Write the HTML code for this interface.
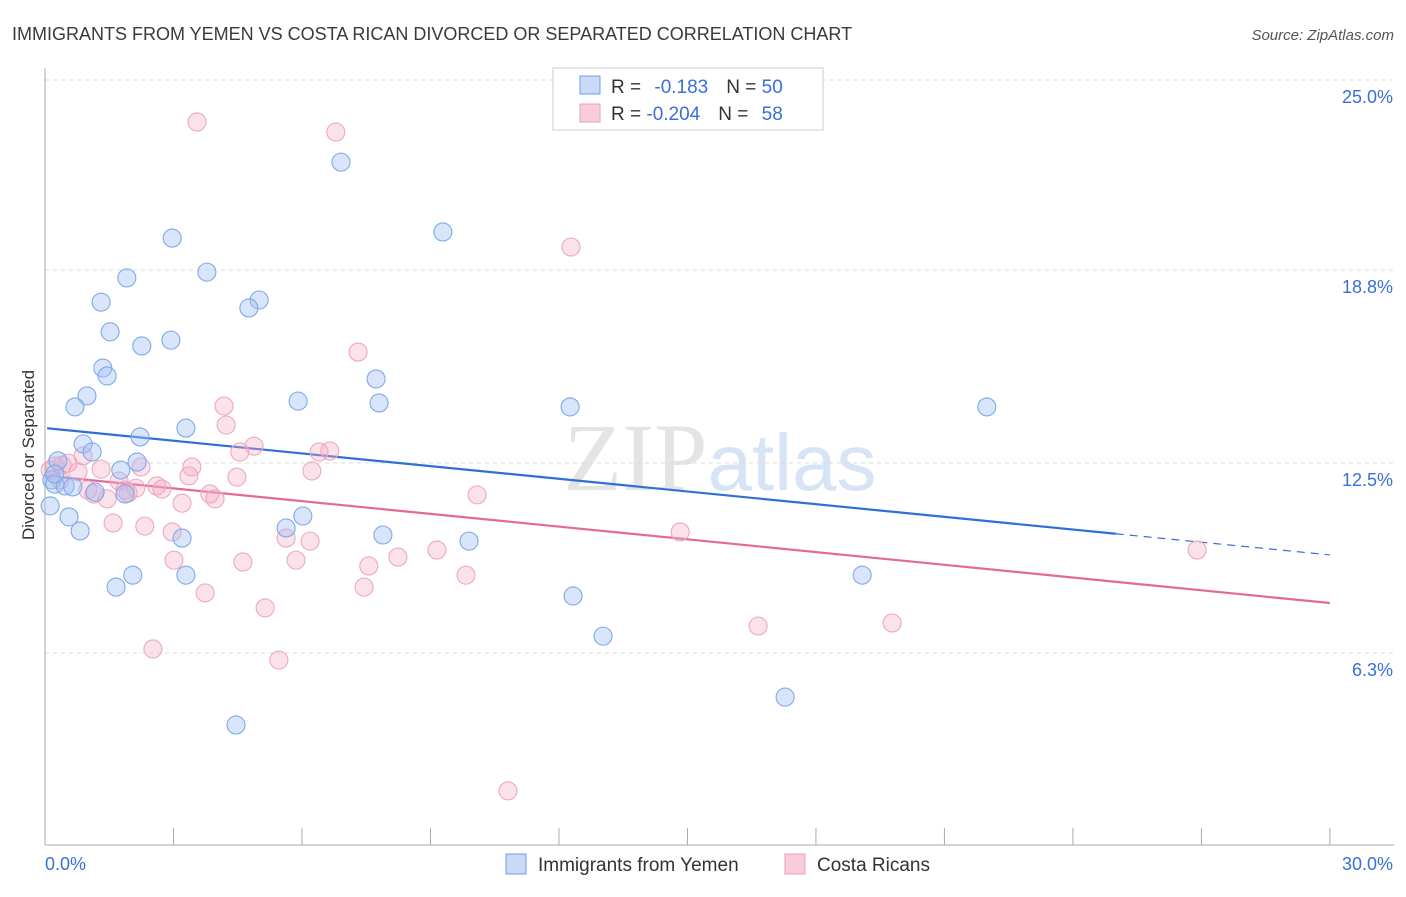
<!DOCTYPE html>
<html><head><meta charset="utf-8"><style>
body{margin:0;background:#fff;font-family:"Liberation Sans",sans-serif;}
</style></head><body>
<svg id="chart" width="1406" height="892" xmlns="http://www.w3.org/2000/svg" style="font-family:'Liberation Sans',sans-serif">
<text x="12" y="40" font-size="18" fill="#3a3a3a">IMMIGRANTS FROM YEMEN VS COSTA RICAN DIVORCED OR SEPARATED CORRELATION CHART</text>
<text x="1394" y="40" font-size="15" fill="#555" text-anchor="end" font-style="italic">Source: ZipAtlas.com</text>
<text x="720" y="490" font-size="96" text-anchor="middle" fill="#e4e4e4" font-family="'Liberation Serif',serif">ZIP<tspan fill="#d6e4f5" font-family="'Liberation Sans',sans-serif" font-size="80">atlas</tspan></text>
<g id="grid"></g><g id="axes"></g><g id="lines"></g><g id="pts"></g>
<text transform="translate(34,455) rotate(-90)" font-size="17" fill="#333" text-anchor="middle">Divorced or Separated</text>
<g>
<rect x="553" y="68" width="270" height="62" fill="#fff" stroke="#ccc"/>
<rect x="580" y="76" width="20" height="18" fill="rgba(164,194,244,0.6)" stroke="#6f9fe0"/>
<rect x="580" y="104" width="20" height="18" fill="rgba(244,170,195,0.6)" stroke="#e8a0b8"/>
<text x="611" y="93" font-size="19" fill="#333">R = <tspan fill="#3a6fd8" dx="8">-0.183</tspan><tspan fill="#333" dx="18">N = </tspan><tspan fill="#3a6fd8">50</tspan></text>
<text x="611" y="120" font-size="19" fill="#333">R = <tspan fill="#3a6fd8">-0.204</tspan><tspan fill="#333" dx="18">N = </tspan><tspan fill="#3a6fd8" dx="8">58</tspan></text>
</g>
<g>
<rect x="506" y="854" width="20" height="20" fill="rgba(164,194,244,0.6)" stroke="#6f9fe0"/>
<text x="538" y="871" font-size="19" fill="#333">Immigrants from Yemen</text>
<rect x="785" y="854" width="20" height="20" fill="rgba(244,170,195,0.6)" stroke="#e8a0b8"/>
<text x="817" y="871" font-size="19" fill="#333">Costa Ricans</text>
</g>
</svg>
<script>
const blueX=[6.91,9.29,2.97,3.78,1.91,1.31,5.00,4.76,1.52,2.94,2.26,1.35,1.45,7.73,0.98,0.70,5.91,7.80,12.26,21.99,2.22,3.29,0.89,1.10,0.30,2.15,1.77,0.16,0.23,0.47,0.65,1.17,1.87,0.12,0.56,6.02,5.63,0.82,7.89,3.20,9.90,2.05,3.29,19.08,1.66,12.33,13.03,17.28,4.46,0.23];
const blueY=[22.32,20.04,19.84,18.73,18.54,17.75,17.82,17.56,16.78,16.51,16.32,15.60,15.34,15.24,14.69,14.33,14.52,14.46,14.33,14.33,13.35,13.64,13.12,12.86,12.57,12.53,12.27,11.95,11.81,11.75,11.72,11.55,11.49,11.10,10.74,10.77,10.38,10.28,10.15,10.05,9.95,8.84,8.84,8.84,8.45,8.16,6.85,4.86,3.95,12.14];
const pinkX=[3.55,6.79,12.28,7.31,4.18,4.23,4.88,4.55,6.65,6.40,0.89,0.23,0.40,0.54,2.24,3.43,1.31,3.36,6.23,4.48,1.73,2.61,2.73,2.12,1.14,1.94,1.45,3.85,3.97,10.09,3.20,1.59,2.33,2.97,14.83,5.63,6.19,9.15,26.90,8.24,5.86,3.01,4.62,7.56,9.83,7.45,3.74,5.14,16.65,19.78,2.52,5.46,10.81,0.12,0.77,1.87,0.35,1.00];
const pinkY=[23.63,23.30,19.55,16.12,14.36,13.74,13.05,12.86,12.89,12.86,12.73,12.40,12.43,12.50,12.37,12.37,12.30,12.08,12.24,12.04,11.91,11.75,11.65,11.68,11.49,11.52,11.33,11.49,11.33,11.46,11.19,10.54,10.44,10.25,10.25,10.05,9.95,9.66,9.66,9.43,9.33,9.33,9.27,9.14,8.84,8.45,8.26,7.77,7.18,7.28,6.43,6.07,1.80,12.27,12.21,11.62,11.95,11.62];
const blueTrend=[13.64,9.50]; const blueSolidEnd=25.0;
const pinkTrend=[12.08,7.93];
const yTicks=[6.3,12.5,18.8,25.0];
const yTickLabels=["6.3%","12.5%","18.8%","25.0%"];
const xTicks=[0,3,6,9,12,15,18,21,24,27,30];
const NS="http://www.w3.org/2000/svg";
const sx=v=>45+v*42.83, sy=v=>846-v*30.64;
function mk(p,t,a){const e=document.createElementNS(NS,t);for(const k in a)e.setAttribute(k,a[k]);document.getElementById(p).appendChild(e);return e;}
yTicks.forEach((t,i)=>{
 const g=mk('grid','line',{x1:45,x2:1394,y1:sy(t),y2:sy(t),stroke:'#ddd','stroke-dasharray':'4,4'});
 
 
 const l=mk('axes','text',{x:1393,y:sy(t)+23,'font-size':18,fill:'#3a6fd8','text-anchor':'end'});l.textContent=yTickLabels[i];
 
 
});
const ax=mk('axes','line',{x1:45,x2:45,y1:68,y2:845,stroke:'#aaa'});


const bx=mk('axes','line',{x1:45,x2:1394,y1:845,y2:845,stroke:'#aaa'});


xTicks.forEach(t=>{const k=mk('axes','line',{x1:sx(t),x2:sx(t),y1:828,y2:845,stroke:'#aaa'});
 
 });
const x0=mk('axes','text',{x:45,y:870,'font-size':18,fill:'#3a6fd8'});x0.textContent='0.0%';


const x1=mk('axes','text',{x:1393,y:870,'font-size':18,fill:'#3a6fd8','text-anchor':'end'});x1.textContent='30.0%';


function pts(X,Y,fill,stroke,name){X.forEach((x,i)=>{const c=mk('pts','circle',{cx:sx(x),cy:sy(Y[i]),r:9,fill:fill,stroke:stroke,'stroke-width':1.1});
 
 });}
pts(pinkX,pinkY,'rgba(244,170,195,0.35)','#eba9c0','costa-rican-point');
pts(blueX,blueY,'rgba(164,194,244,0.42)','#7eaae6','yemen-point');
const by=x=>blueTrend[0]+(blueTrend[1]-blueTrend[0])*x/30;
const l1=mk('lines','line',{x1:sx(0.05),y1:sy(by(0.05)),x2:sx(blueSolidEnd),y2:sy(by(blueSolidEnd)),stroke:'#2f6fd6','stroke-width':2.2});


const l2=mk('lines','line',{x1:sx(blueSolidEnd),y1:sy(by(blueSolidEnd)),x2:sx(30),y2:sy(by(30)),stroke:'#2f6fd6','stroke-width':1.2,'stroke-dasharray':'8,6'});


const l3=mk('lines','line',{x1:sx(0.05),y1:sy(pinkTrend[0]),x2:sx(30),y2:sy(pinkTrend[1]),stroke:'#e46a95','stroke-width':2.2});


</script>
</body></html>
